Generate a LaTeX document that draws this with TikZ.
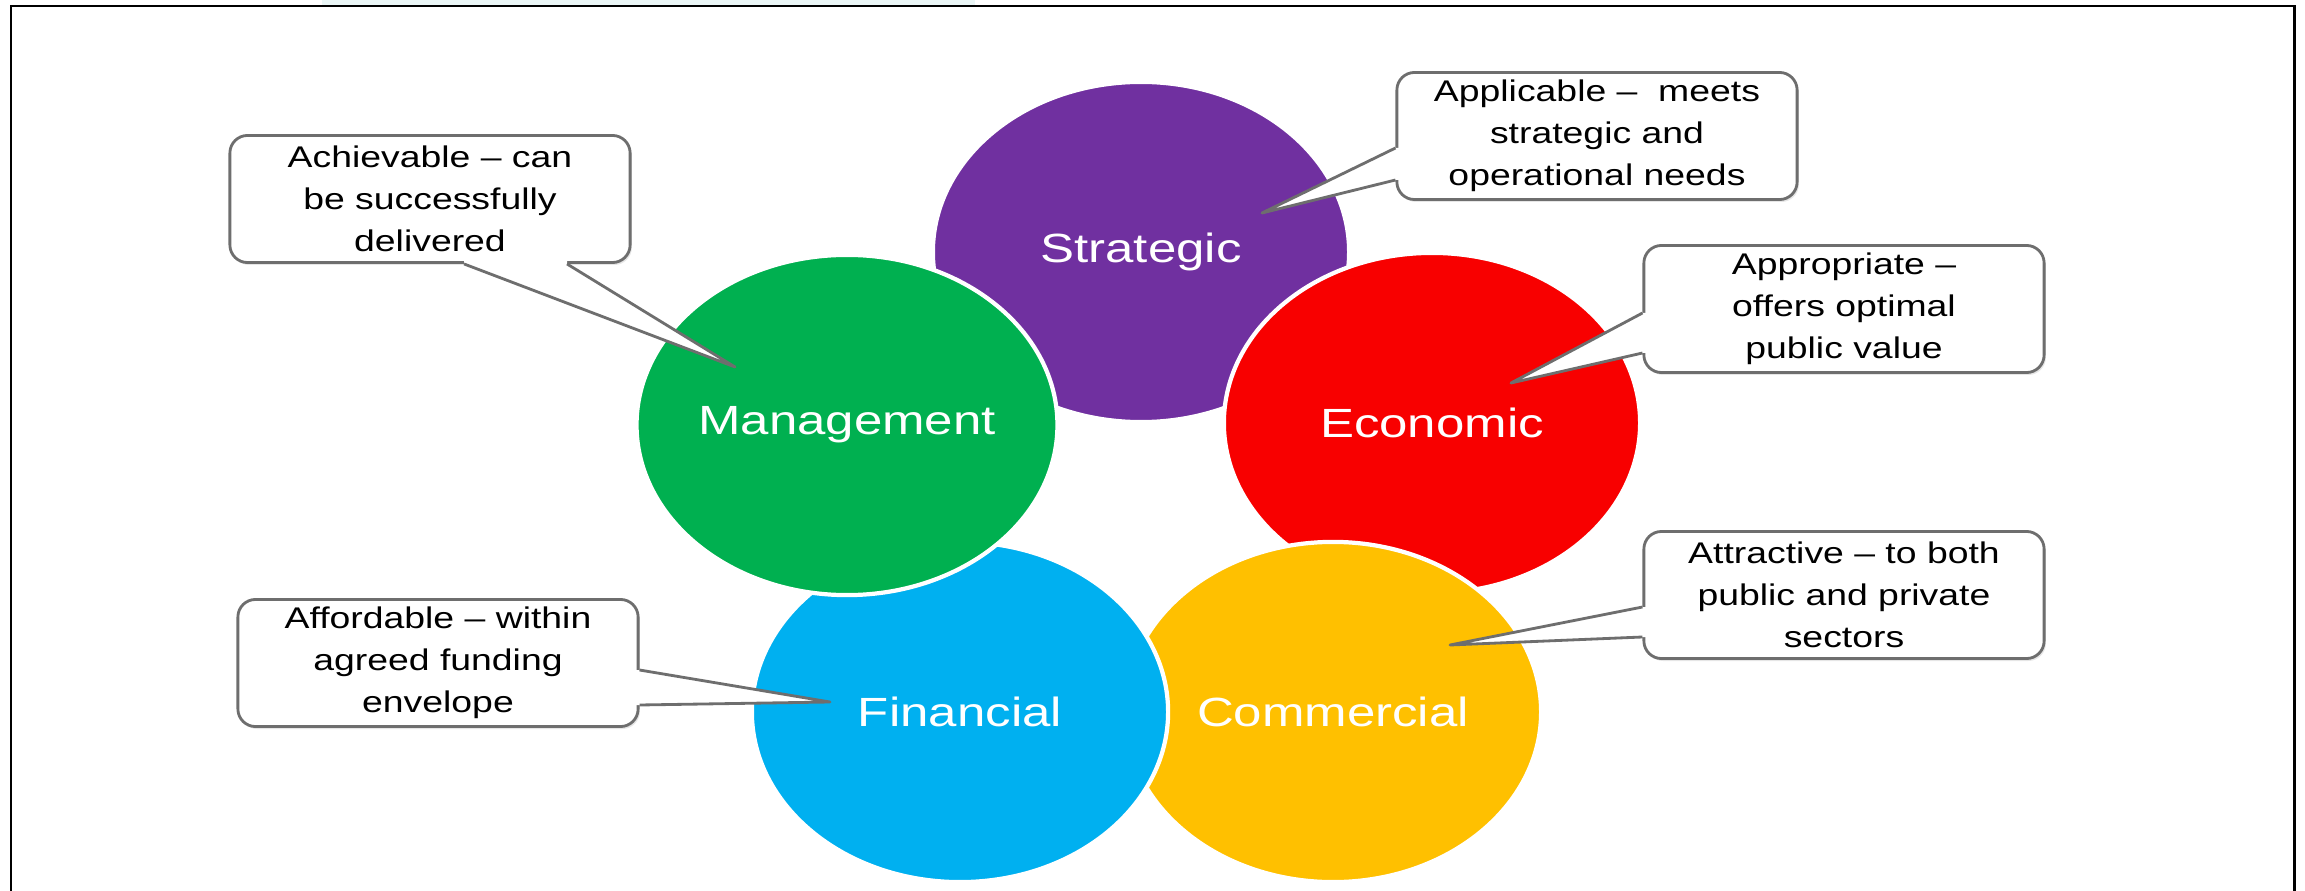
\documentclass[tikz,border=0pt]{standalone}
\usepackage{fontspec}
\setmainfont{Liberation Sans}[FakeStretch=1.25]
\usetikzlibrary{shapes.geometric,calc,shadows}
\definecolor{strategic}{HTML}{7030A0}
\definecolor{economic}{HTML}{F80000}
\definecolor{commercial}{HTML}{FFC000}
\definecolor{financial}{HTML}{00B0F0}
\definecolor{management}{HTML}{00B050}
\definecolor{notegray}{HTML}{6E6E6E}
\definecolor{stripcyan}{HTML}{EAF6F6}

\begin{document}
\begin{tikzpicture}[x=0.01cm,y=-0.01cm,
  phase/.style={ellipse,draw=white,line width=1.2pt,fill=#1,minimum width=4.16cm,minimum height=3.4cm,inner sep=0pt,text=white,font=\fontsize{11.6}{14}\selectfont},
  note/.style={rectangle,rounded corners=5pt,draw=notegray,line width=0.8pt,fill=white,minimum width=4cm,minimum height=1.27cm,inner sep=2pt,align=center,font=\fontsize{8.5}{12}\selectfont,drop shadow={opacity=0.2,shadow xshift=0.5pt,shadow yshift=-0.7pt}},
  tail/.style={draw=notegray,line width=0.8pt,line join=round}]
\useasboundingbox (0,0) rectangle (2305,891);
\fill[stripcyan] (322,0) rectangle (975,5);
\draw[line width=0.85pt] (11,891) -- (11,6) -- (2294,6) -- (2294,891);

\node[phase=strategic] (strat) at (1141,252) {Strategic};
\node[phase=economic] (econ) at (1432,423) {Economic};
\node[phase=commercial] (comm) at (1333,712) {Commercial};
\node[phase=financial] (fin) at (960,712) {Financial};
\node[phase=management] (mgmt) at (847,425) {Management};

\node[note] (achv) at (430,199) {Achievable -- can\\be successfully\\delivered};
\node[note] (appl) at (1597,136) {Applicable --\ \ meets\\strategic and\\operational needs};
\node[note] (appr) at (1844,309) {Appropriate --\\offers optimal\\public value};
\node[note] (attr) at (1844,595) {Attractive -- to both\\public and private\\sectors};
\node[note] (affd) at (438,663) {Affordable -- within\\agreed funding\\envelope};

\coordinate (achvtip) at ($(mgmt.center)+(-112,-58)$);
\coordinate (appltip) at ($(strat.center)+(121,-39)$);
\coordinate (apprtip) at ($(econ.center)+(79,-40)$);
\coordinate (attrtip) at ($(comm.center)+(117,-67)$);
\coordinate (affdtip) at ($(fin.center)+(-130,-10)$);

\fill[white] ($(achv.south)+(34,-4)$) -- ($(achv.south)+(34,0)$) -- (achvtip) -- ($(achv.south)+(137,0)$) -- ($(achv.south)+(137,-4)$) -- cycle;
\draw[tail] ($(achv.south)+(34,0)$) -- (achvtip) -- ($(achv.south)+(137,0)$);

\fill[white] ($(appl.west)+(4,12)$) -- ($(appl.west)+(0,12)$) -- (appltip) -- ($(appl.west)+(0,44)$) -- ($(appl.west)+(4,44)$) -- cycle;
\draw[tail] ($(appl.west)+(0,12)$) -- (appltip) -- ($(appl.west)+(0,44)$);

\fill[white] ($(appr.west)+(4,4)$) -- ($(appr.west)+(0,4)$) -- (apprtip) -- ($(appr.west)+(0,44)$) -- ($(appr.west)+(4,44)$) -- cycle;
\draw[tail] ($(appr.west)+(0,4)$) -- (apprtip) -- ($(appr.west)+(0,44)$);

\fill[white] ($(attr.west)+(4,12)$) -- ($(attr.west)+(0,12)$) -- (attrtip) -- ($(attr.west)+(0,42)$) -- ($(attr.west)+(4,42)$) -- cycle;
\draw[tail] ($(attr.west)+(0,12)$) -- (attrtip) -- ($(attr.west)+(0,42)$);

\fill[white] ($(affd.east)+(-4,7)$) -- ($(affd.east)+(0,7)$) -- (affdtip) -- ($(affd.east)+(0,42)$) -- ($(affd.east)+(-4,42)$) -- cycle;
\draw[tail] ($(affd.east)+(0,7)$) -- (affdtip) -- ($(affd.east)+(0,42)$);
\end{tikzpicture}
\end{document}
